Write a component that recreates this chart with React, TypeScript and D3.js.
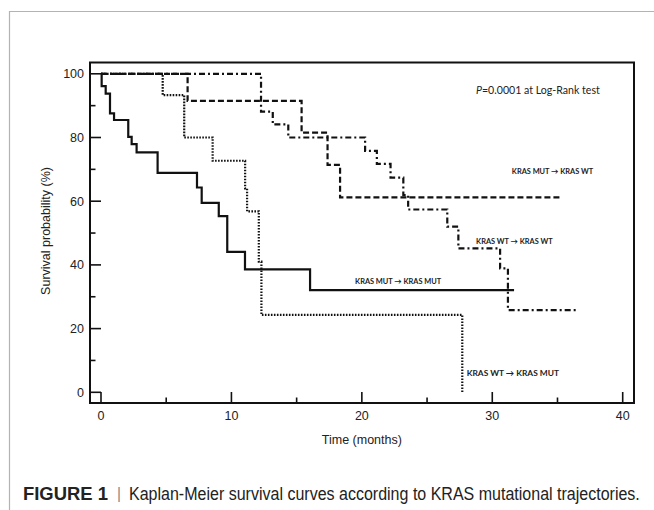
import { useEffect, useRef } from "react";
import * as d3 from "d3";

// survival curves, step points (time in months, survival %)
const mutMutTimes = [0, 0.05, 0.36, 0.69, 1.0, 2.09, 2.35, 2.73, 4.34, 7.36, 7.72, 9.03, 9.68, 11.04, 16.03, 31.67];
const mutMutSurv = [100, 96.1, 93.8, 87.6, 85.5, 80.2, 77.9, 75.3, 68.9, 64.3, 59.5, 55.3, 44.1, 38.6, 32.1, 32.1];

const wtMutTimes = [0, 4.73, 6.38, 8.56, 11.05, 11.2, 12.1, 12.3, 27.7];
const wtMutSurv = [100, 93.3, 80.0, 72.7, 64.0, 56.8, 41.0, 24.3, 0];

const mutWtTimes = [0, 6.64, 15.38, 17.37, 18.33, 35.2];
const mutWtSurv = [100, 91.5, 81.5, 71.4, 61.2, 61.2];

const wtWtTimes = [0, 12.27, 13.17, 14.36, 20.25, 21.15, 22.2, 23.18, 23.55, 26.55, 27.4, 30.6, 31.2, 36.5];
const wtWtSurv = [100, 88.1, 84.1, 80.0, 75.8, 71.7, 67.4, 61.9, 57.4, 52.0, 45.2, 38.9, 25.8, 25.8];

// curve labels: [text, time where it starts, survival level]
const curveLabels: [string, number, number][] = [
  ["KRAS MUT \u2192 KRAS WT", 31.5, 69.5],
  ["KRAS WT \u2192 KRAS WT", 28.76, 47.6],
  ["KRAS MUT \u2192 KRAS MUT", 19.48, 34.9],
  ["KRAS WT \u2192 KRAS MUT", 28.04, 6.0],
];

const xTicks = [0, 10, 20, 30, 40];
const xMinor = [5, 15, 25, 35];
const yTicks = [0, 20, 40, 60, 80, 100];
const yMinor = [10, 30, 50, 70, 90];

const width = 654;
const height = 510;

export default function App() {
  const ref = useRef<SVGSVGElement>(null);

  useEffect(() => {
    const svg = d3.select(ref.current);
    svg.selectAll("*").remove();

    const x = d3.scaleLinear().domain([0, 40]).range([101, 622.7]);
    const y = d3.scaleLinear().domain([0, 100]).range([392.3, 73.8]);

    // figure frame (top and left grey rule)
    svg
      .append("path")
      .attr("d", "M9.5," + height + "V11.5H" + width)
      .attr("fill", "none")
      .attr("stroke", "#b3b3b3")
      .attr("stroke-width", 1.2);

    // plot box
    const box = { left: 90, right: 634, top: 62.5, bottom: 403 };
    svg
      .append("rect")
      .attr("x", box.left)
      .attr("y", box.top)
      .attr("width", box.right - box.left)
      .attr("height", box.bottom - box.top)
      .attr("fill", "none")
      .attr("stroke", "#111")
      .attr("stroke-width", 2);

    const g = svg.append("g").attr("stroke", "#111").attr("stroke-width", 1.6);
    yTicks.forEach((t) => {
      g.append("line").attr("x1", box.left).attr("x2", box.left + 11).attr("y1", y(t)).attr("y2", y(t));
    });
    yMinor.forEach((t) => {
      g.append("line").attr("x1", box.left).attr("x2", box.left + 5.5).attr("y1", y(t)).attr("y2", y(t));
    });
    xTicks.forEach((t) => {
      g.append("line").attr("x1", x(t)).attr("x2", x(t)).attr("y1", box.bottom).attr("y2", box.bottom - 11);
    });
    xMinor.forEach((t) => {
      g.append("line").attr("x1", x(t)).attr("x2", x(t)).attr("y1", box.bottom).attr("y2", box.bottom - 5.5);
    });

    const axisFont = "'Liberation Sans', Arial, sans-serif";
    svg
      .append("g")
      .selectAll("text")
      .data(yTicks)
      .join("text")
      .attr("x", 84)
      .attr("y", (d) => y(d) + 4.5)
      .attr("text-anchor", "end")
      .attr("font-family", axisFont)
      .attr("font-size", 12.5)
      .attr("fill", "#222")
      .text((d) => d);

    svg
      .append("g")
      .selectAll("text")
      .data(xTicks)
      .join("text")
      .attr("x", (d) => x(d))
      .attr("y", 420)
      .attr("text-anchor", "middle")
      .attr("font-family", axisFont)
      .attr("font-size", 12.5)
      .attr("fill", "#222")
      .text((d) => d);

    svg
      .append("text")
      .attr("x", x(20))
      .attr("y", 444)
      .attr("text-anchor", "middle")
      .attr("font-family", axisFont)
      .attr("font-size", 12.5)
      .attr("fill", "#222")
      .text("Time (months)");

    svg
      .append("text")
      .attr("transform", "translate(50,231)rotate(-90)")
      .attr("text-anchor", "middle")
      .attr("font-family", axisFont)
      .attr("font-size", 12.5)
      .attr("fill", "#222")
      .text("Survival probability (%)");

    // the four curves
    const line = d3
      .line<[number, number]>()
      .x((d) => x(d[0]))
      .y((d) => y(d[1]))
      .curve(d3.curveStepAfter);

    const curves = [
      { t: mutMutTimes, s: mutMutSurv, dash: null },
      { t: wtMutTimes, s: wtMutSurv, dash: "1.6,1.4" },
      { t: mutWtTimes, s: mutWtSurv, dash: "6,3" },
      { t: wtWtTimes, s: wtWtSurv, dash: "6,3,2,3" },
    ];
    curves.forEach((c) => {
      const pts = c.t.map((t, i) => [t, c.s[i]] as [number, number]);
      svg
        .append("path")
        .attr("d", line(pts))
        .attr("fill", "none")
        .attr("stroke", "#111")
        .attr("stroke-width", 2.2)
        .attr("stroke-dasharray", c.dash);
    });

    const labelFont = "Lato, 'Open Sans', sans-serif";
    svg
      .append("g")
      .selectAll("text")
      .data(curveLabels)
      .join("text")
      .attr("x", (d) => x(d[1]))
      .attr("y", (d) => y(d[2]) + 3)
      .attr("font-family", labelFont)
      .attr("font-weight", 700)
      .attr("font-size", (d, i) => (i === 3 ? 8.4 : 7.4))
      .attr("fill", "#222")
      .text((d) => d[0]);

    const p = svg
      .append("text")
      .attr("x", 476)
      .attr("y", 94)
      .attr("font-family", labelFont)
      .attr("font-size", 10.6)
      .attr("fill", "#222");
    p.append("tspan").attr("font-style", "italic").text("P");
    p.append("tspan").text("=0.0001 at Log-Rank test");

    // caption, squeezed horizontally to the condensed width of the original
    const capFont = "'Liberation Sans Narrow', 'Liberation Sans', Arial, sans-serif";
    const fitText = (
      txt: string,
      x0: number,
      y0: number,
      w: number,
      size: number,
      weight: number,
      fill: string
    ) => {
      const t = svg
        .append("text")
        .attr("font-family", capFont)
        .attr("font-weight", weight)
        .attr("font-size", size)
        .attr("fill", fill)
        .text(txt);
      const natural = (t.node() as SVGTextElement).getComputedTextLength() || w;
      t.attr("transform", "translate(" + x0 + "," + y0 + ")scale(" + w / natural + ",1)");
    };
    fitText("FIGURE 1", 23, 500, 85, 18.5, 700, "#222");
    fitText("|", 117, 499, 4, 17, 400, "#888");
    fitText("Kaplan-Meier survival curves according to KRAS mutational trajectories.", 129, 500, 511, 18.5, 400, "#222");
  }, []);

  return (
    <div style={{ position: "absolute", left: 0, top: 0 }}>
      <svg ref={ref} width={width} height={height} style={{ display: "block", background: "#fff" }}></svg>
    </div>
  );
}
